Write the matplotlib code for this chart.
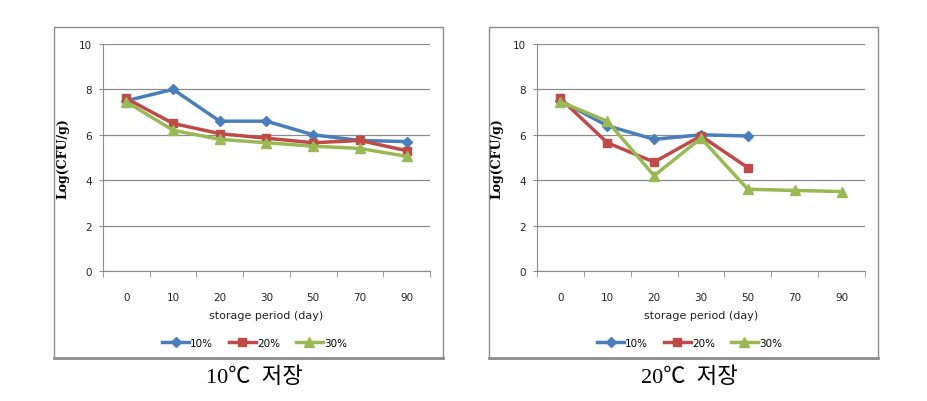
import matplotlib
matplotlib.use("Agg")
import matplotlib.pyplot as plt
from matplotlib.patches import Rectangle
from matplotlib.ticker import FixedLocator

days = ["0", "10", "20", "30", "50", "70", "90"]
series_names = ["10%", "20%", "30%"]

# 10 C storage
t10_10 = [7.5, 8.0, 6.6, 6.6, 6.0, 5.75, 5.7]
t10_20 = [7.6, 6.5, 6.05, 5.85, 5.65, 5.75, 5.3]
t10_30 = [7.45, 6.2, 5.8, 5.65, 5.5, 5.4, 5.05]

# 20 C storage
t20_10 = [7.5, 6.4, 5.8, 6.0, 5.95]
t20_20 = [7.6, 5.65, 4.8, 5.95, 4.55]
t20_30 = [7.45, 6.6, 4.2, 5.85, 3.6, 3.55, 3.5]

captions = ["10\u2103  저장", "20\u2103  저장"]
y_label = "Log(CFU/g)"
x_label = "storage period (day)"

colors = ["#4A7EBB", "#BE4B48", "#98B954"]
markers = ["D", "s", "^"]
msizes = [5, 6, 6.5]

W, H = 928, 402
fig = plt.figure(figsize=(W / 100, H / 100), dpi=100)

tick_font = ["Liberation Sans Narrow", "DejaVu Sans Condensed", "DejaVu Sans"]

def fx(px):
    return px / W

def fy(py):
    return 1 - py / H

panels = [
    dict(box=(54, 28, 443, 359), plot=(103, 45, 430, 272), data=[t10_10, t10_20, t10_30], cap=captions[0]),
    dict(box=(489, 28, 878, 359), plot=(537, 45, 865, 272), data=[t20_10, t20_20, t20_30], cap=captions[1]),
]

for p in panels:
    bx0, by0, bx1, by1 = p["box"]
    fig.patches.append(Rectangle((fx(bx0), fy(by1)), fx(bx1 - bx0), (by1 - by0) / H,
                                 transform=fig.transFigure, fill=False,
                                 edgecolor="#8c8c8c", linewidth=1.0, zorder=0))
    # thicker bottom edge
    fig.add_artist(plt.Line2D([fx(bx0), fx(bx1)], [fy(by1), fy(by1)],
                              transform=fig.transFigure, color="#8c8c8c", linewidth=2.0))
    px0, py0, px1, py1 = p["plot"]
    ax = fig.add_axes([fx(px0), fy(py1), fx(px1 - px0), (py1 - py0) / H])
    handles = []
    for i, vals in enumerate(p["data"]):
        xs = list(range(len(vals)))
        h, = ax.plot(xs, vals, color=colors[i], marker=markers[i], markersize=msizes[i],
                     linewidth=2.5, label=series_names[i], clip_on=False, zorder=3)
        handles.append(h)
    ax.set_xlim(-0.5, len(days) - 0.5)
    ax.set_ylim(0, 10)
    ax.set_yticks(range(0, 11, 2))
    ax.set_xticks(range(len(days)))
    ax.set_xticklabels(days)
    ax.xaxis.set_minor_locator(FixedLocator([i - 0.5 for i in range(len(days) + 1)]))
    ax.tick_params(axis="x", which="major", length=0, pad=15, labelsize=7.5, colors="#222222")
    ax.tick_params(axis="x", which="minor", length=4, direction="out", color="#8c8c8c")
    ax.tick_params(axis="y", length=3, direction="out", color="#8c8c8c", pad=5, labelsize=7.5,
                   labelcolor="#222222")
    for lab in ax.get_xticklabels() + ax.get_yticklabels():
        lab.set_family(tick_font)
    ax.grid(axis="y", color="#8c8c8c", linewidth=0.9)
    ax.set_axisbelow(True)
    for s in ["top", "right"]:
        ax.spines[s].set_visible(False)
    ax.spines["left"].set_color("#8c8c8c")
    ax.spines["bottom"].set_color("#8c8c8c")
    ax.set_xlabel(x_label, fontsize=8, family=tick_font, labelpad=6, color="#222222")
    ax.set_ylabel(y_label, fontsize=9, fontweight="bold", family=["DejaVu Serif"], labelpad=7)
    cx = fx((bx0 + bx1) / 2 + 6)
    fig.legend(handles=handles, loc="center", bbox_to_anchor=(cx, fy(344)), ncol=3, frameon=False,
               prop={"family": tick_font, "size": 7.5}, handlelength=2.6, columnspacing=1.5,
               handletextpad=0.1, numpoints=1)
    fig.text(cx, fy(378), p["cap"], ha="center", va="center", fontsize=16,
             family=["Liberation Serif", "Noto Sans CJK KR", "DejaVu Sans"])

fig.savefig("out.png", dpi=100)
